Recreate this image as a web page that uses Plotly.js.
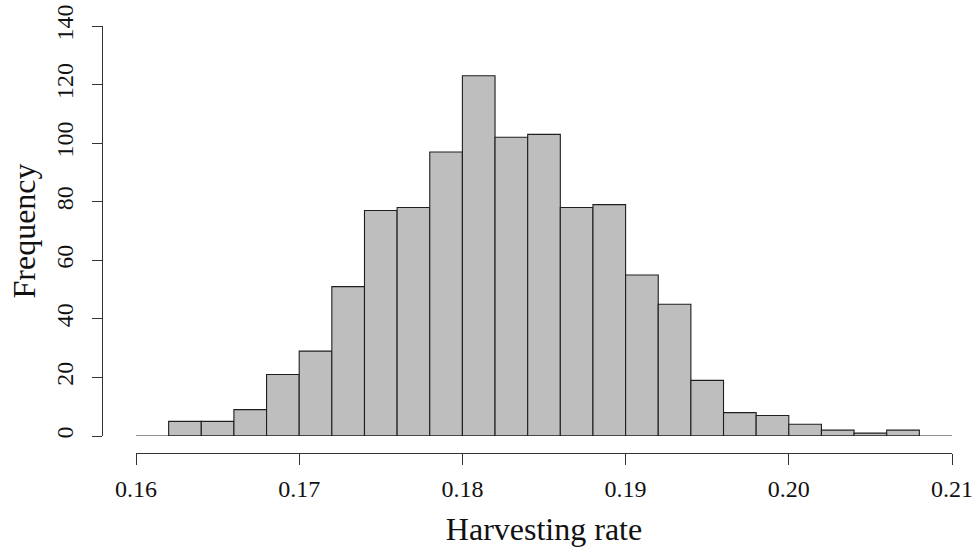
<!DOCTYPE html>
<html>
<head>
<meta charset="utf-8">
<script src="https://cdn.plot.ly/plotly-3.0.1.min.js"></script>
<style>html,body{margin:0;padding:0;background:#fff;}#chart{width:973px;height:550px;}</style>
</head>
<body>
<div id="chart"></div>
<script>
// Histogram of harvesting rate: left bin edges (bin width 0.002) and counts
const binLeft = [0.162, 0.164, 0.166, 0.168, 0.170, 0.172, 0.174, 0.176, 0.178, 0.180, 0.182, 0.184,
                 0.186, 0.188, 0.190, 0.192, 0.194, 0.196, 0.198, 0.200, 0.202, 0.204, 0.206];
const binWidth = 0.002;
const counts = [5, 5, 9, 21, 29, 51, 77, 78, 97, 123, 102, 103,
                78, 79, 55, 45, 19, 8, 7, 4, 2, 1, 2];
const xTickVals = [0.16, 0.17, 0.18, 0.19, 0.20, 0.21];
const xTickText = ["0.16", "0.17", "0.18", "0.19", "0.20", "0.21"];
const yTickVals = [0, 20, 40, 60, 80, 100, 120, 140];
const xRange = [0.16, 0.21];
const yRange = [0, 140];

const centers = binLeft.map(b => b + binWidth / 2);
const FONT = "Liberation Serif, Times New Roman, serif";

const trace = {
  type: 'bar',
  x: centers,
  y: counts,
  width: binLeft.map(() => binWidth),
  marker: {color: '#BEBEBE', line: {color: '#1f1f1f', width: 1.1}},
  hoverinfo: 'x+y'
};

const layout = {
  width: 973, height: 550,
  margin: {l: 102, r: 21, t: 26, b: 97, pad: 0},
  paper_bgcolor: '#fff', plot_bgcolor: '#fff',
  showlegend: false,
  bargap: 0,
  font: {family: FONT, color: '#111', size: 24},
  xaxis: {
    domain: [0.04, 1],
    range: xRange,
    anchor: 'free', position: 0,
    tickvals: xTickVals, ticktext: xTickText,
    ticks: 'outside', ticklen: 11, tickwidth: 1, tickcolor: '#333',
    showline: true, linecolor: '#333', linewidth: 1,
    showgrid: false, zeroline: false,
    tickfont: {family: FONT, size: 24, color: '#111'},
    ticklabelstandoff: 3,
    automargin: false,
    title: {text: 'Harvesting rate', font: {family: FONT, size: 32, color: '#111'}, standoff: 16}
  },
  yaxis: {
    domain: [0.0398, 1],
    range: yRange,
    anchor: 'free', position: 0,
    tickvals: yTickVals,
    tickangle: -90,
    ticks: 'outside', ticklen: 10, tickwidth: 1, tickcolor: '#333',
    showline: true, linecolor: '#333', linewidth: 1,
    showgrid: false, zeroline: false,
    tickfont: {family: FONT, size: 24, color: '#111'},
    ticklabelstandoff: 9,
    automargin: false,
    title: {text: 'Frequency', font: {family: FONT, size: 32, color: '#111'}, standoff: 6}
  },
  shapes: [{
    type: 'line', xref: 'x', yref: 'y',
    x0: xRange[0], x1: xRange[1], y0: 0, y1: 0,
    line: {color: '#222', width: 1.2}, layer: 'above'
  }]
};

Plotly.newPlot('chart', [trace], layout, {displayModeBar: false, staticPlot: true});
</script>
</body>
</html>
